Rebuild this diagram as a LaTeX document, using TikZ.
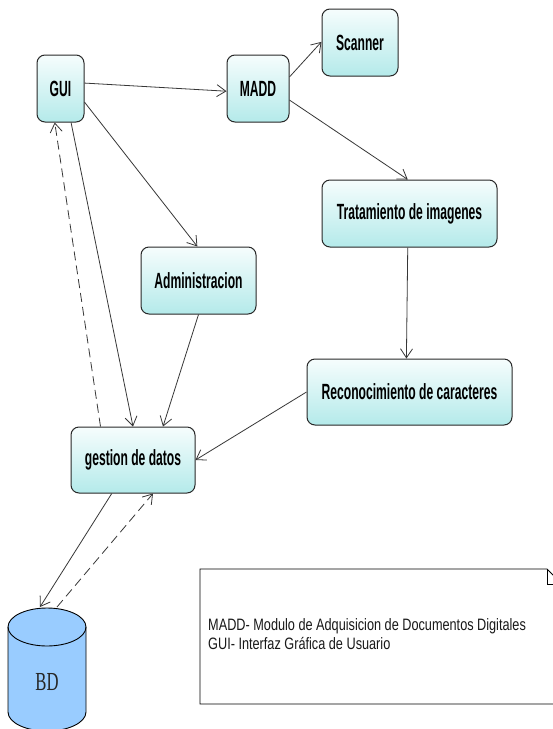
\documentclass[tikz,border=0pt]{standalone}
\usepackage{fontspec}
\usetikzlibrary{arrows.meta,calc}
\newfontfamily\boxfont[FakeStretch=0.55]{Liberation Sans}
\newfontfamily\notefont[FakeStretch=0.77]{Liberation Sans}
\newfontfamily\dbfont[FakeStretch=0.64]{Liberation Serif}
\definecolor{boxtop}{RGB}{246,253,253}
\definecolor{boxbot}{RGB}{180,234,234}
\definecolor{boxline}{RGB}{40,40,40}
\definecolor{edgecol}{RGB}{55,55,55}
\definecolor{dbfill}{RGB}{153,204,255}
\tikzset{
  module/.style={draw=boxline, line width=1pt, rounded corners=8pt,
    top color=boxtop, bottom color=boxbot, inner sep=0pt,
    font=\boxfont\bfseries\fontsize{22}{24}\selectfont},
  flow/.style={draw=edgecol, line width=0.8pt,
    -{Straight Barb[length=9pt,width=12pt,line width=0.8pt]}},
  back/.style={flow, dash pattern=on 9pt off 5pt},
}
\begin{document}
\begin{tikzpicture}[x=1pt,y=1pt]
\useasboundingbox (0,0) rectangle (553,-729);
\clip (0,0) rectangle (553,-729);
\fill[white] (0,0) rectangle (553,-729);

% modules
\node[module, minimum width=47pt, minimum height=67pt] (GUI) at (60.5,-88.5) {GUI};
\node[module, minimum width=62pt, minimum height=67pt] (MADD) at (258,-88.5) {MADD};
\node[module, minimum width=76pt, minimum height=67pt] (SCAN) at (360,-42.5) {Scanner};
\node[module, minimum width=175pt, minimum height=67pt] (TRAT) at (409.5,-213.5) {Tratamiento de imagenes};
\node[module, minimum width=115pt, minimum height=67pt] (ADM) at (198.5,-280.5) {Administracion};
\node[module, minimum width=205pt, minimum height=66pt] (REC) at (409.5,-392) {Reconocimiento de caracteres};
\node[module, minimum width=124pt, minimum height=66pt] (GEST) at (133,-460) {gestion de datos};

% database cylinder
\path[draw=black, line width=0.9pt, fill=dbfill]
  (8,-627) -- (8,-712) arc[start angle=180, end angle=360, x radius=39pt, y radius=19pt]
  -- (86,-627) arc[start angle=0, end angle=180, x radius=39pt, y radius=19pt] -- cycle;
\draw[black, line width=0.9pt] (8,-627) arc[start angle=180, end angle=360, x radius=39pt, y radius=19pt];
\node[font=\dbfont\fontsize{26}{28}\selectfont, text=black!85] (BD) at (47,-682) {BD};
\coordinate (BDa) at (40,-607);
\coordinate (BDb) at (57,-607);

% note
\draw[black, line width=0.9pt] (200,-569) -- (547,-569) -- (562,-584) -- (562,-704) -- (200,-704) -- cycle;
\draw[black, line width=0.9pt] (547,-569) -- (547,-584) -- (562,-584);
\node[anchor=west, align=left, inner sep=0pt, text=black!90,
      font=\notefont\fontsize{16.5}{19}\selectfont] (NOTE) at (208,-634.5)
  {MADD- Modulo de Adquisicion de Documentos Digitales\\GUI- Interfaz Gráfica de Usuario};

% connectors
\draw[flow] ($(GUI.north east)!0.42!(GUI.south east)$) -- ($(MADD.north west)!0.54!(MADD.south west)$);
\draw[flow] ($(MADD.north east)!0.33!(MADD.south east)$) -- ($(SCAN.north west)!0.49!(SCAN.south west)$);
\draw[flow] ($(MADD.north east)!0.67!(MADD.south east)$) -- ($(TRAT.north west)!0.49!(TRAT.north east)$);
\draw[flow] ($(GUI.north east)!0.70!(GUI.south east)$) -- ($(ADM.north west)!0.49!(ADM.north east)$);
\draw[flow] ($(GUI.south west)!0.72!(GUI.south east)$) -- ($(GEST.north west)!0.50!(GEST.north east)$);
\draw[back] ($(GEST.north west)!0.24!(GEST.north east)$) -- ($(GUI.south west)!0.38!(GUI.south east)$);
\draw[flow] (ADM.south) -- ($(GEST.north west)!0.74!(GEST.north east)$);
\draw[flow] ($(TRAT.south west)!0.49!(TRAT.south east)$) -- ($(REC.north west)!0.485!(REC.north east)$);
\draw[flow] (REC.west) -- (GEST.east);
\draw[flow] ($(GEST.south west)!0.33!(GEST.south east)$) -- (BDa);
\draw[back] (BDb) -- ($(GEST.south west)!0.66!(GEST.south east)$);
\end{tikzpicture}
\end{document}
